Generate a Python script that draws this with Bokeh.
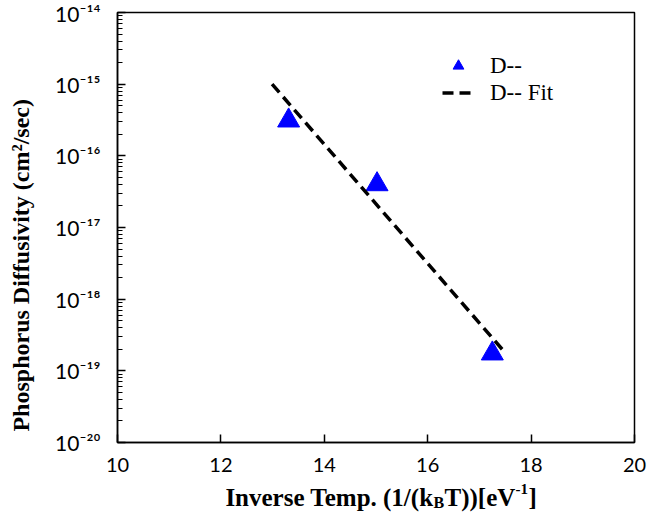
import math
from bokeh.plotting import figure
from bokeh.layouts import column, row
from bokeh.models import (FixedTicker, CustomJSTickFormatter, Legend,
                          LegendItem, ColumnDataSource, Range1d)
from bokeh.core.properties import value
from bokeh.embed import file_html
from bokeh.resources import INLINE

# ---------------- data ----------------
x_data = [13.31, 15.02, 17.25]
y_data = [3.1e-16, 4.0e-17, 1.74e-19]

fit_x = [12.99, 17.44]
fit_y = [1.0e-15, 2.0e-19]

x_ticks = [10, 12, 14, 16, 18, 20]
y_exponents = [-20, -19, -18, -17, -16, -15, -14]
y_tick_labels = ["10\u207b\u00b2\u2070", "10\u207b\u00b9\u2079", "10\u207b\u00b9\u2078",
                 "10\u207b\u00b9\u2077", "10\u207b\u00b9\u2076", "10\u207b\u00b9\u2075",
                 "10\u207b\u00b9\u2074"]

series_label = "D--"
fit_label = "D-- Fit"
y_title = "Phosphorus Diffusivity (cm\u00b2/sec)"
x_title_parts = ["Inverse Temp. (1/(k", "B", "T))[eV", "-1", "]"]

SERIF = value("Liberation Serif")

# ---------------- main figure ----------------
LEFT_W = 40
MAIN_H = 478
p = figure(width=647 - LEFT_W, height=MAIN_H, x_range=(10, 20), y_range=(1e-20, 1e-14),
           y_axis_type="log", output_backend="svg", toolbar_location=None,
           min_border_left=117 - LEFT_W, min_border_right=13, min_border_top=12,
           min_border_bottom=MAIN_H - 442)
p.grid.visible = False
p.outline_line_color = "black"
p.outline_line_width = 1.5
p.background_fill_color = "white"
p.border_fill_color = "white"

src = ColumnDataSource(dict(x=x_data, y=y_data))
tri = p.scatter("x", "y", source=src, marker="triangle", size=22,
                fill_color="#0000FF", line_color="#0000FF")
fsrc = ColumnDataSource(dict(x=fit_x, y=fit_y))
fit = p.line("x", "y", source=fsrc, line_color="black", line_width=3.5,
             line_dash="11 6")

# x axis
xa = p.xaxis[0]
xa.ticker = FixedTicker(ticks=x_ticks)
xa.major_tick_in = 8
xa.major_tick_out = 0
xa.minor_tick_line_color = None
xa.axis_line_width = 1.5
xa.major_tick_line_width = 1.5
xa.major_label_text_font = "Lato"
xa.major_label_text_font_size = "20px"
xa.major_label_text_color = "black"
xa.major_label_standoff = 15

# y axis
ya = p.yaxis[0]
minor = [k * 10.0 ** n for n in y_exponents[:-1] for k in range(2, 10)]
ya.ticker = FixedTicker(ticks=[10.0 ** e for e in y_exponents], minor_ticks=minor)
ya.formatter = CustomJSTickFormatter(args=dict(labels=y_tick_labels, exps=y_exponents),
                                     code="""
const e = Math.round(Math.log10(tick));
const i = exps.indexOf(e);
return i >= 0 ? labels[i] : '';
""")
ya.major_tick_in = 8
ya.major_tick_out = 0
ya.minor_tick_in = 5
ya.minor_tick_out = 0
ya.axis_line_width = 1.5
ya.major_tick_line_width = 1.5
ya.minor_tick_line_width = 1.2
ya.major_label_text_font = "Lato"
ya.major_label_text_font_size = "21px"
ya.major_label_text_color = "black"
ya.major_label_standoff = 17

# legend
legend = Legend(items=[LegendItem(label=series_label, renderers=[tri]),
                       LegendItem(label=fit_label, renderers=[fit])],
                location=(325, 336), border_line_color=None,
                background_fill_alpha=0, padding=0, margin=0,
                glyph_width=32, glyph_height=27, label_height=27, spacing=0,
                label_standoff=16, label_text_font="Liberation Serif",
                label_text_font_size="23px", label_text_color="black")
p.add_layout(legend)

# ---------------- left title strip ----------------
left = figure(width=LEFT_W, height=MAIN_H, x_range=Range1d(0, LEFT_W),
              y_range=Range1d(0, MAIN_H), output_backend="svg", toolbar_location=None,
              x_axis_location=None, y_axis_location=None, min_border=0)
left.grid.visible = False
left.outline_line_color = None
left.text(x=[20], y=[MAIN_H - 281], text=[y_title], angle=math.pi / 2,
          text_align="center", text_baseline="middle", text_font=SERIF,
          text_font_style="bold", text_font_size="24px", text_color="black")

# ---------------- bottom title strip ----------------
BOT_H = 516 - MAIN_H
bottom = figure(width=647, height=BOT_H, x_range=Range1d(0, 647),
                y_range=Range1d(0, BOT_H), output_backend="svg", toolbar_location=None,
                x_axis_location=None, y_axis_location=None, min_border=0)
bottom.grid.visible = False
bottom.outline_line_color = None
base = 19
bottom.text(x=[433], y=[base], text=[x_title_parts[0]], text_align="right",
            text_baseline="alphabetic", text_font=SERIF, text_font_style="bold",
            text_font_size="25px", text_color="black")
bottom.text(x=[433], y=[base - 5], text=[x_title_parts[1]], text_align="left",
            text_baseline="alphabetic", text_font=SERIF, text_font_style="bold",
            text_font_size="16px", text_color="black")
bottom.text(x=[444], y=[base], text=[x_title_parts[2]], text_align="left",
            text_baseline="alphabetic", text_font=SERIF, text_font_style="bold",
            text_font_size="25px", text_color="black")
bottom.text(x=[515], y=[base + 9], text=[x_title_parts[3]], text_align="left",
            text_baseline="alphabetic", text_font=SERIF, text_font_style="bold",
            text_font_size="15px", text_color="black")
bottom.text(x=[528], y=[base], text=[x_title_parts[4]], text_align="left",
            text_baseline="alphabetic", text_font=SERIF, text_font_style="bold",
            text_font_size="25px", text_color="black")

layout = column(row(left, p, spacing=0), bottom, spacing=0)
open("out.html", "w").write(file_html(layout, INLINE))
